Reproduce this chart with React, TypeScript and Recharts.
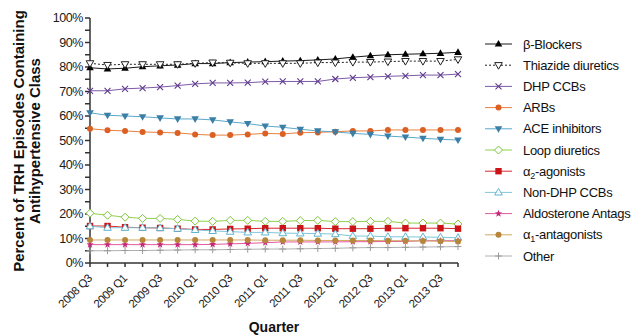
import React from "react";
import { LineChart, Line, XAxis, YAxis } from "recharts";

document.body.style.margin = "0";

const FONT = '"Liberation Sans", Arial, sans-serif';

const QUARTERS = [
  "2008 Q3", "2008 Q4", "2009 Q1", "2009 Q2", "2009 Q3", "2009 Q4",
  "2010 Q1", "2010 Q2", "2010 Q3", "2010 Q4", "2011 Q1", "2011 Q2",
  "2011 Q3", "2011 Q4", "2012 Q1", "2012 Q2", "2012 Q3", "2012 Q4",
  "2013 Q1", "2013 Q2", "2013 Q3", "2013 Q4",
];

const Y_TICKS = [0, 5, 10, 15, 20, 25, 30, 35, 40, 45, 50, 55, 60, 65, 70, 75, 80, 85, 90, 95, 100];

// percent of episodes per quarter
const BETA_BLOCKERS = [79.7, 79.2, 79.5, 80.1, 80.5, 80.8, 81.4, 81.4, 81.8, 82.0, 82.2, 82.4, 82.6, 82.9, 83.3, 84.0, 84.6, 85.0, 85.2, 85.4, 85.6, 86.0];
const THIAZIDE = [81.5, 80.8, 81.1, 81.1, 81.1, 81.1, 81.5, 81.8, 81.7, 81.5, 81.5, 81.5, 81.5, 81.8, 81.8, 82.0, 82.0, 82.2, 82.4, 82.4, 82.4, 83.1];
const DHP_CCB = [70.3, 70.3, 71.1, 71.4, 71.8, 72.4, 73.1, 73.5, 73.5, 73.6, 74.0, 74.1, 74.1, 74.1, 75.1, 75.6, 75.9, 76.2, 76.4, 76.7, 76.7, 77.1];
const ARB = [54.8, 54.2, 53.9, 53.5, 53.3, 53.1, 52.5, 52.2, 52.2, 52.5, 52.9, 52.7, 53.2, 53.3, 53.6, 53.9, 53.9, 54.3, 54.3, 54.3, 54.3, 54.3];
const ACE = [61.3, 60.3, 60.0, 59.7, 59.2, 58.8, 58.8, 58.4, 57.6, 56.9, 55.9, 55.4, 54.6, 53.9, 53.5, 52.9, 52.5, 51.8, 51.4, 50.9, 50.5, 50.2];
const LOOP = [20.3, 19.5, 18.7, 18.2, 18.2, 17.8, 17.1, 17.0, 17.4, 17.4, 17.0, 17.0, 17.3, 17.4, 16.9, 16.9, 17.0, 17.0, 16.3, 16.3, 16.3, 15.9];
const ALPHA2 = [15.1, 15.1, 14.6, 14.4, 14.3, 14.0, 13.7, 13.7, 13.9, 14.0, 14.2, 14.2, 14.2, 14.2, 14.0, 14.0, 14.0, 14.2, 14.2, 14.2, 14.2, 14.0];
const NON_DHP = [15.0, 14.4, 14.4, 14.4, 14.3, 14.0, 13.5, 13.1, 12.8, 12.5, 12.5, 12.2, 12.1, 12.0, 11.8, 11.0, 11.0, 10.7, 10.7, 10.6, 10.5, 10.3];
const ALDOSTERONE = [7.5, 7.5, 7.5, 7.5, 7.5, 7.5, 7.5, 7.6, 7.8, 8.0, 8.3, 8.6, 8.6, 8.6, 8.6, 8.7, 8.7, 8.8, 8.8, 9.1, 9.1, 9.1];
const ALPHA1 = [9.4, 9.4, 9.4, 9.4, 9.4, 9.4, 9.4, 9.4, 9.4, 9.4, 9.3, 9.3, 9.3, 9.2, 9.2, 9.2, 9.2, 9.1, 9.1, 9.0, 8.9, 8.8];
const OTHER = [5.0, 5.0, 5.1, 5.1, 5.2, 5.3, 5.4, 5.4, 5.5, 5.6, 5.7, 5.7, 5.8, 5.9, 6.0, 6.2, 6.3, 6.3, 6.4, 6.5, 6.6, 6.7];

type Shape =
  | "triangle" | "triangleDownOpen" | "cross" | "circle" | "triangleDown"
  | "diamondOpen" | "square" | "triangleOpen" | "star" | "plus";

interface Series {
  key: string;
  label: string[]; // [text] or [before, subscript, after]
  values: number[];
  line: string;
  marker: string;
  shape: Shape;
  dash?: string;
}

const SERIES: Series[] = [
  { key: "beta", label: ["β-Blockers"], values: BETA_BLOCKERS, line: "#1a1a1a", marker: "#000000", shape: "triangle" },
  { key: "thiazide", label: ["Thiazide diuretics"], values: THIAZIDE, line: "#222222", marker: "#222222", shape: "triangleDownOpen", dash: "2 2" },
  { key: "dhp", label: ["DHP CCBs"], values: DHP_CCB, line: "#7d5aa8", marker: "#5e3a8c", shape: "cross" },
  { key: "arb", label: ["ARBs"], values: ARB, line: "#e8803e", marker: "#dc5f24", shape: "circle" },
  { key: "ace", label: ["ACE inhibitors"], values: ACE, line: "#5aa8cc", marker: "#3b7ea6", shape: "triangleDown" },
  { key: "loop", label: ["Loop diuretics"], values: LOOP, line: "#8fd24e", marker: "#7cc63a", shape: "diamondOpen" },
  { key: "alpha2", label: ["α", "2", "-agonists"], values: ALPHA2, line: "#d8282c", marker: "#cc1418", shape: "square" },
  { key: "nondhp", label: ["Non-DHP CCBs"], values: NON_DHP, line: "#7ec6da", marker: "#5fb6cf", shape: "triangleOpen" },
  { key: "aldo", label: ["Aldosterone Antags"], values: ALDOSTERONE, line: "#e25a9c", marker: "#c8287a", shape: "star" },
  { key: "alpha1", label: ["α", "1", "-antagonists"], values: ALPHA1, line: "#d2a860", marker: "#b8863a", shape: "circle" },
  { key: "other", label: ["Other"], values: OTHER, line: "#b0b0b0", marker: "#9a9a9a", shape: "plus" },
];

const data = QUARTERS.map((quarter, i) => {
  const row: Record<string, string | number> = { quarter };
  SERIES.forEach((s) => {
    row[s.key] = s.values[i];
  });
  return row;
});

function Marker({ cx, cy, shape, color }: { cx: number; cy: number; shape: Shape; color: string }) {
  const w = 1;
  switch (shape) {
    case "triangle":
      return <polygon points={`${cx},${cy - 4} ${cx + 3.8},${cy + 2.6} ${cx - 3.8},${cy + 2.6}`} fill={color} />;
    case "triangleDown":
      return <polygon points={`${cx - 3.8},${cy - 2.6} ${cx + 3.8},${cy - 2.6} ${cx},${cy + 4}`} fill={color} />;
    case "triangleDownOpen":
      return <polygon points={`${cx - 3.8},${cy - 2.6} ${cx + 3.8},${cy - 2.6} ${cx},${cy + 4}`} fill="#fff" stroke={color} strokeWidth={w} />;
    case "triangleOpen":
      return <polygon points={`${cx},${cy - 4} ${cx + 3.8},${cy + 2.6} ${cx - 3.8},${cy + 2.6}`} fill="#fff" stroke={color} strokeWidth={w} />;
    case "cross":
      return (
        <path d={`M${cx - 3},${cy - 3}L${cx + 3},${cy + 3}M${cx - 3},${cy + 3}L${cx + 3},${cy - 3}`} stroke={color} strokeWidth={1.1} />
      );
    case "plus":
      return <path d={`M${cx - 3.5},${cy}L${cx + 3.5},${cy}M${cx},${cy - 3.5}L${cx},${cy + 3.5}`} stroke={color} strokeWidth={1} />;
    case "circle":
      return <circle cx={cx} cy={cy} r={3} fill={color} />;
    case "diamondOpen":
      return (
        <polygon points={`${cx},${cy - 4} ${cx + 4},${cy} ${cx},${cy + 4} ${cx - 4},${cy}`} fill="#fff" stroke={color} strokeWidth={w} />
      );
    case "square":
      return <rect x={cx - 3.2} y={cy - 3.2} width={6.4} height={6.4} fill={color} />;
    case "star": {
      const pts: string[] = [];
      for (let k = 0; k < 10; k++) {
        const r = k % 2 === 0 ? 3.8 : 1.6;
        const a = -Math.PI / 2 + (k * Math.PI) / 5;
        pts.push(`${cx + r * Math.cos(a)},${cy + r * Math.sin(a)}`);
      }
      return <polygon points={pts.join(" ")} fill={color} />;
    }
  }
  return null;
}

// only every second quarter gets a label; every quarter keeps its tick mark
function QuarterTick(props: any) {
  const { x, y, payload } = props;
  if (payload.index % 2 !== 0) return <g />;
  return (
    <g transform={`translate(${x},${y})`}>
      <text
        x={0}
        y={0}
        dx={-5}
        dy={9}
        textAnchor="end"
        transform="rotate(-45)"
        fontSize={11.5}
        fontFamily={FONT}
        fill="#1a1a1a"
        letterSpacing={-0.3}
      >
        {payload.value}
      </text>
    </g>
  );
}

function YTitle() {
  return (
    <g fontFamily={FONT} fontWeight="bold" fontSize={15} fill="#111" textAnchor="middle">
      <text x={23.5} y={141} transform="rotate(-90, 23.5, 141)">
        Percent of TRH Episodes Containing
      </text>
      <text x={39.5} y={141} transform="rotate(-90, 39.5, 141)">
        Antihypertensive Class
      </text>
    </g>
  );
}

function LegendLabel({ label }: { label: string[] }) {
  if (label.length === 1) return <>{label[0]}</>;
  return (
    <>
      {label[0]}
      <tspan dy={3} fontSize={9}>
        {label[1]}
      </tspan>
      <tspan dy={-3}>{label[2]}</tspan>
    </>
  );
}

function SeriesLegend() {
  return (
    <svg width={156} height={260} style={{ position: "absolute", left: 476, top: 30 }}>
      {SERIES.map((s, i) => {
        const y = 14 + i * 21.2;
        return (
          <g key={s.key}>
            <line x1={9} x2={36} y1={y} y2={y} stroke={s.line} strokeWidth={1} strokeDasharray={s.dash} />
            <Marker cx={22.5} cy={y} shape={s.shape} color={s.marker} />
            <text x={47} y={y + 4.5} fontFamily={FONT} fontSize={13} fill="#111" letterSpacing={-0.3}>
              <LegendLabel label={s.label} />
            </text>
          </g>
        );
      })}
    </svg>
  );
}

export default function App() {
  return (
    <div style={{ position: "relative", width: 632, height: 336, background: "#fff" }}>
      <LineChart width={632} height={336} data={data} margin={{ top: 18, right: 174, bottom: 0, left: 0 }}>
        <XAxis
          dataKey="quarter"
          interval={0}
          height={73}
          tick={<QuarterTick />}
          tickSize={4}
          stroke="#333"
          strokeWidth={1.5}
          label={{ value: "Quarter", position: "insideBottom", offset: 4, fontFamily: FONT, fontWeight: "bold", fontSize: 14, fill: "#111" }}
        />
        <YAxis
          width={90}
          domain={[0, 100]}
          ticks={Y_TICKS}
          interval={0}
          tickSize={5}
          tickFormatter={(v: number) => (v % 10 === 0 ? `${v}%` : "")}
          tick={{ fontSize: 12.5, fontFamily: FONT, fill: "#1a1a1a", letterSpacing: -0.4 }}
          stroke="#333"
          strokeWidth={1.5}
          label={<YTitle />}
        />
        {SERIES.map((s) => (
          <Line
            key={s.key}
            dataKey={s.key}
            type="linear"
            stroke={s.line}
            strokeWidth={1}
            strokeDasharray={s.dash}
            isAnimationActive={false}
            activeDot={false}
            dot={(p: any) => <Marker key={`${s.key}-${p.index}`} cx={p.cx} cy={p.cy} shape={s.shape} color={s.marker} />}
          />
        ))}
      </LineChart>
      <SeriesLegend />
    </div>
  );
}
